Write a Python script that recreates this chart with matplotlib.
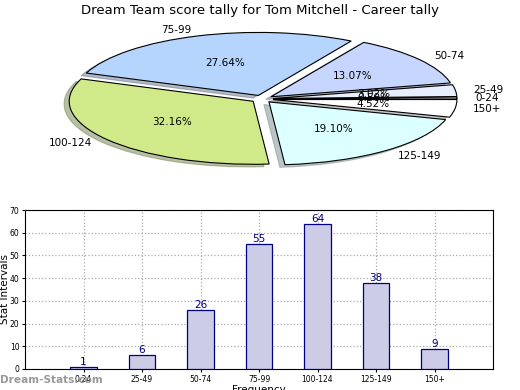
import matplotlib
matplotlib.use("Agg")
import matplotlib.pyplot as plt
import numpy as np

categories = ["0-24", "25-49", "50-74", "75-99", "100-124", "125-149", "150+"]
counts = [1, 6, 26, 55, 64, 38, 9]
pie_colors = ["#f4f4ff", "#e6eeff", "#c6d6ff", "#b5d5ff", "#d0ea8a", "#dcffff", "#ffffff"]
yticks = [0, 10, 20, 30, 40, 50, 60, 70]

fig = plt.figure(figsize=(5.2, 3.9), dpi=100)
fig.suptitle("Dream Team score tally for Tom Mitchell - Career tally", fontsize=9.5, y=0.99)

# Pie (elliptical)
sx = 184.0  # px per unit horizontally
sy = 63.0   # px per unit vertically
cx, cy = 262.0, 99.0
lim = 1.3
axp = fig.add_axes([(cx - lim * sx) / 520, (390 - (cy + lim * sy)) / 390,
                    2 * lim * sx / 520, 2 * lim * sy / 390])
explode = [0.06] * len(counts)
wedges, texts, autotexts = axp.pie(
    counts, labels=categories, colors=pie_colors, explode=explode,
    startangle=0, counterclock=True,
    shadow={"ox": -0.02, "oy": -0.03, "shade": 0.45},
    autopct="%.2f%%", pctdistance=0.55, labeldistance=1.1,
    wedgeprops=dict(edgecolor="black", linewidth=0.8),
    textprops=dict(fontsize=7.5))
axp.set_aspect("auto")
axp.set_xlim(-lim, lim)
axp.set_ylim(-lim, lim)
axp.axis("off")

# Bar chart
axb = fig.add_axes([25/520, (390-369)/390, 468/520, 159/390])
x = np.arange(len(categories))
bars = axb.bar(x, counts, width=0.45, color="#ccccE6", edgecolor="#000080", linewidth=0.9, zorder=3)
for xi, c in zip(x, counts):
    axb.text(xi, c, str(c), ha="center", va="bottom", color="#000080", fontsize=7.5, zorder=4)
axb.set_xlim(-1, len(categories))
axb.set_ylim(0, 70)
axb.set_xticks(x)
axb.set_xticklabels(categories, fontsize=5.5)
axb.set_yticks(yticks)
axb.set_yticklabels([str(t) for t in yticks], fontsize=5.5)
axb.tick_params(length=2, pad=2)
axb.grid(True, linestyle=":", color="#aaaaaa", linewidth=0.9, zorder=0)
axb.set_ylabel("Stat Intervals", fontsize=7.5)
axb.yaxis.set_label_coords(-0.033, 0.5)
axb.set_xlabel("Frequency", fontsize=7.5, labelpad=1)

fig.text(0.0, 0.012, "Dream-Stats.com", fontsize=7.6, color="#999999", fontweight="bold", ha="left", va="bottom")

fig.savefig("out.png", dpi=100)
